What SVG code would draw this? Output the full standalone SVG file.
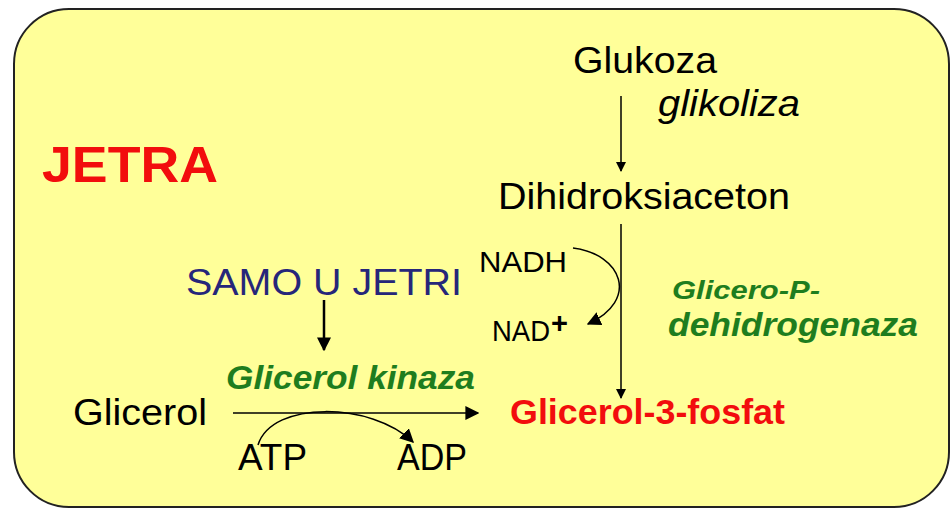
<svg xmlns="http://www.w3.org/2000/svg" width="950" height="509" viewBox="0 0 950 509">
  <defs>
    <marker id="tip" viewBox="0 0 10 10" refX="9" refY="5" markerWidth="10" markerHeight="10" markerUnits="userSpaceOnUse" orient="auto">
      <path d="M0,0 L10,5 L0,10 z" fill="#000"/>
    </marker>
    <marker id="tipBig" viewBox="0 0 10 10" refX="9" refY="5" markerWidth="14" markerHeight="14" markerUnits="userSpaceOnUse" orient="auto">
      <path d="M0,0 L10,5 L0,10 z" fill="#000"/>
    </marker>
  </defs>
  <style>
    text { font-family: "Liberation Sans", Arial, sans-serif; }
    .plain { fill: #000; font-size: 37px; }
    .small { fill: #000; font-size: 29px; }
    .enzyme { fill: #1e7d1e; font-weight: bold; font-style: italic; }
    .red { fill: #f20d0d; font-weight: bold; }
    .line { stroke: #000; stroke-width: 1.5; fill: none; }
  </style>

  <!-- liver compartment -->
  <rect x="14" y="9" width="935" height="498" rx="55" ry="55" fill="#ffff99" stroke="#222" stroke-width="2"/>

  <g id="title"><text class="red" x="42" y="182" font-size="50" textLength="176" lengthAdjust="spacingAndGlyphs">JETRA</text></g>

  <g id="glukoza"><text class="plain" x="573" y="73" textLength="144" lengthAdjust="spacingAndGlyphs">Glukoza</text></g>
  <g id="glikoliza"><text class="plain" x="658" y="116" font-style="italic" textLength="142" lengthAdjust="spacingAndGlyphs">glikoliza</text></g>
  <g id="dihidroksiaceton"><text class="plain" x="498" y="209" textLength="292" lengthAdjust="spacingAndGlyphs">Dihidroksiaceton</text></g>
  <g id="nadh"><text class="small" x="479" y="272" textLength="88" lengthAdjust="spacingAndGlyphs">NADH</text></g>
  <g id="nad"><text class="small" x="492" y="341" textLength="58" lengthAdjust="spacingAndGlyphs">NAD</text><text class="small" x="551" y="333" font-size="13" font-weight="bold">+</text></g>
  <g id="gpdh">
    <text class="enzyme" x="672" y="299" font-size="26" textLength="148" lengthAdjust="spacingAndGlyphs">Glicero-P-</text>
    <text class="enzyme" x="668" y="336" font-size="33" textLength="250" lengthAdjust="spacingAndGlyphs">dehidrogenaza</text>
  </g>
  <g id="samo"><text x="186" y="295" font-size="37" fill="#26267a" textLength="276" lengthAdjust="spacingAndGlyphs">SAMO U JETRI</text></g>
  <g id="kinaza"><text class="enzyme" x="226" y="389" font-size="34" textLength="249" lengthAdjust="spacingAndGlyphs">Glicerol kinaza</text></g>
  <g id="glicerol"><text class="plain" x="73" y="425" textLength="134" lengthAdjust="spacingAndGlyphs">Glicerol</text></g>
  <g id="g3p"><text class="red" x="510" y="424" font-size="35" textLength="275" lengthAdjust="spacingAndGlyphs">Glicerol-3-fosfat</text></g>
  <g id="atp"><text class="plain" x="238" y="470" font-size="33" textLength="69" lengthAdjust="spacingAndGlyphs">ATP</text></g>
  <g id="adp"><text class="plain" x="397" y="470" font-size="33" textLength="70" lengthAdjust="spacingAndGlyphs">ADP</text></g>

  <g id="connectors">
    <line class="line" x1="621" y1="96" x2="621" y2="171" marker-end="url(#tip)"/>
    <line class="line" x1="621" y1="224" x2="621" y2="398" marker-end="url(#tip)"/>
    <path class="line" d="M573,248 C622,254 640,300 588,324" marker-end="url(#tipBig)"/>
    <line x1="324" y1="300" x2="324" y2="350" stroke="#000" stroke-width="2.5" marker-end="url(#tipBig)"/>
    <line class="line" x1="233" y1="413" x2="478" y2="413" marker-end="url(#tipBig)"/>
    <path class="line" d="M258,445 C272,400 372,402 413,442" marker-end="url(#tipBig)"/>
  </g>
</svg>
